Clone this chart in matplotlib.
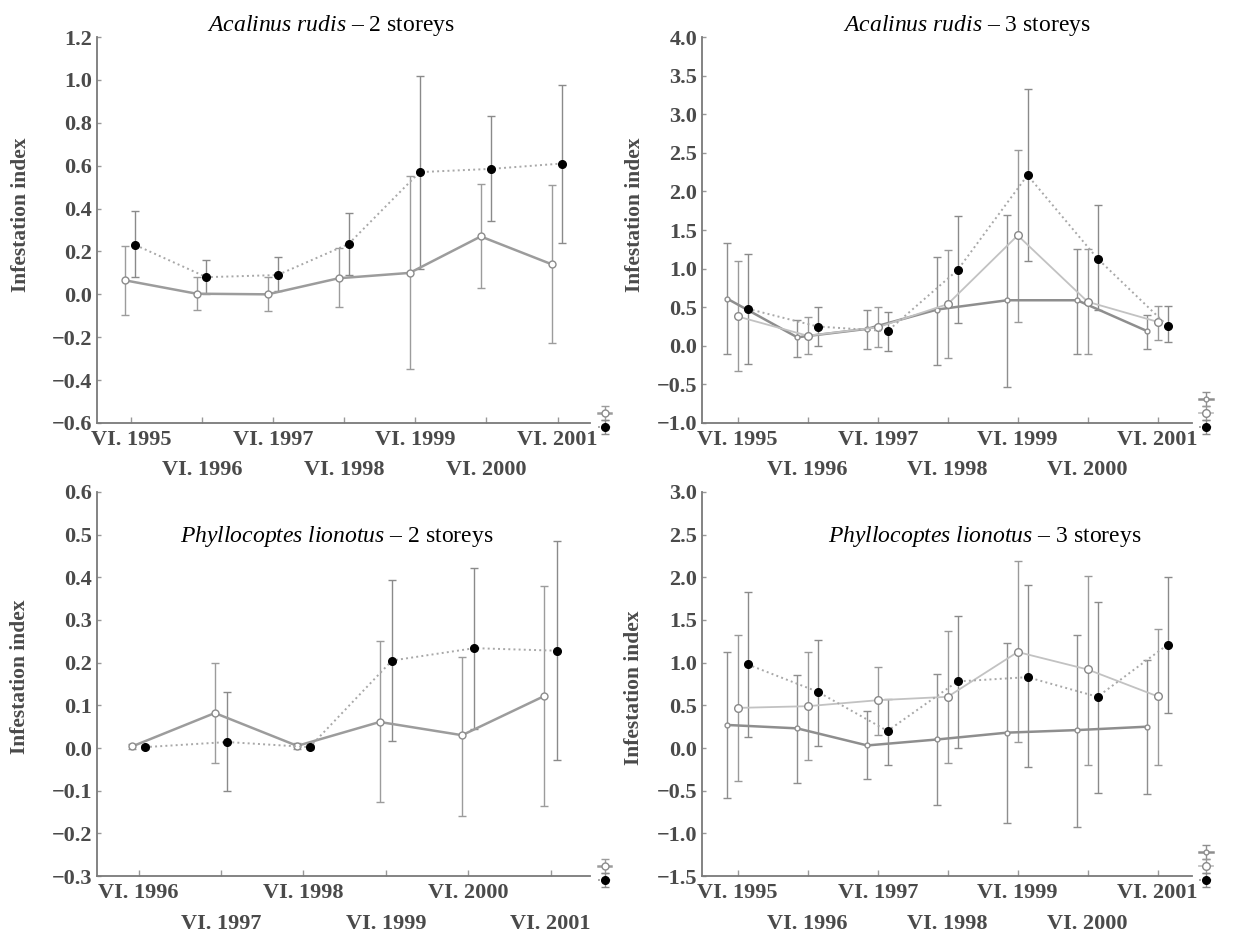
#!/usr/bin/env python3
"""Infestation index of two eriophyid mites on 2- and 3-storey trees, 1995-2001."""
import matplotlib

matplotlib.use("Agg")
import matplotlib.pyplot as plt
import numpy as np
from matplotlib.ticker import FuncFormatter, MultipleLocator

plt.rcParams["font.family"] = ["Liberation Serif", "DejaVu Serif"]
plt.rcParams["mathtext.fontset"] = "custom"
plt.rcParams["mathtext.rm"] = "Liberation Serif"
plt.rcParams["mathtext.it"] = "Liberation Serif:italic"

YEARS_95 = [1995, 1996, 1997, 1998, 1999, 2000, 2001]
YEARS_96 = [1996, 1997, 1998, 1999, 2000, 2001]

# Acalinus rudis - 2 storeys (mean, upper and lower end of bar)
AR2_GREY_MEAN = [0.065, 0.003, 0.0, 0.075, 0.10, 0.27, 0.14]
AR2_GREY_HI = [0.225, 0.08, 0.08, 0.215, 0.55, 0.515, 0.51]
AR2_GREY_LO = [-0.095, -0.075, -0.08, -0.06, -0.35, 0.03, -0.225]
AR2_BLACK_MEAN = [0.23, 0.08, 0.09, 0.235, 0.57, 0.585, 0.61]
AR2_BLACK_HI = [0.39, 0.16, 0.175, 0.38, 1.02, 0.83, 0.975]
AR2_BLACK_LO = [0.08, 0.0, 0.015, 0.09, 0.12, 0.34, 0.24]

# Acalinus rudis - 3 storeys
AR3_A_MEAN = [0.61, 0.11, 0.22, 0.47, 0.59, 0.59, 0.19]
AR3_A_HI = [1.33, 0.33, 0.47, 1.15, 1.69, 1.26, 0.40]
AR3_A_LO = [-0.11, -0.15, -0.04, -0.25, -0.54, -0.11, -0.04]
AR3_B_MEAN = [0.38, 0.13, 0.24, 0.54, 1.43, 0.57, 0.31]
AR3_B_HI = [1.10, 0.37, 0.50, 1.24, 2.54, 1.26, 0.51]
AR3_B_LO = [-0.33, -0.10, -0.02, -0.16, 0.31, -0.11, 0.07]
AR3_C_MEAN = [0.48, 0.25, 0.19, 0.98, 2.21, 1.13, 0.26]
AR3_C_HI = [1.19, 0.50, 0.44, 1.68, 3.33, 1.82, 0.51]
AR3_C_LO = [-0.23, 0.0, -0.07, 0.29, 1.10, 0.46, 0.05]

# Phyllocoptes lionotus - 2 storeys
PL2_GREY_MEAN = [0.004, 0.082, 0.005, 0.061, 0.03, 0.122]
PL2_GREY_HI = [0.01, 0.199, 0.012, 0.25, 0.214, 0.38]
PL2_GREY_LO = [-0.002, -0.035, -0.002, -0.127, -0.16, -0.137]
PL2_BLACK_MEAN = [0.002, 0.014, 0.002, 0.205, 0.234, 0.228]
PL2_BLACK_HI = [0.006, 0.131, 0.006, 0.394, 0.421, 0.484]
PL2_BLACK_LO = [-0.002, -0.101, -0.002, 0.017, 0.045, -0.028]

# Phyllocoptes lionotus - 3 storeys
PL3_A_MEAN = [0.27, 0.23, 0.03, 0.10, 0.18, 0.21, 0.25]
PL3_A_HI = [1.125, 0.86, 0.43, 0.87, 1.23, 1.33, 1.03]
PL3_A_LO = [-0.59, -0.41, -0.36, -0.67, -0.88, -0.92, -0.54]
PL3_B_MEAN = [0.47, 0.49, 0.56, 0.60, 1.125, 0.92, 0.605]
PL3_B_HI = [1.33, 1.12, 0.95, 1.37, 2.19, 2.02, 1.39]
PL3_B_LO = [-0.39, -0.14, 0.15, -0.17, 0.07, -0.20, -0.20]
PL3_C_MEAN = [0.98, 0.66, 0.20, 0.78, 0.83, 0.60, 1.21]
PL3_C_HI = [1.83, 1.27, 0.58, 1.55, 1.91, 1.71, 2.00]
PL3_C_LO = [0.13, 0.02, -0.20, 0.0, -0.22, -0.53, 0.41]

TITLES = [
    r"$\mathit{Acalinus\ rudis}$ – 2 storeys",
    r"$\mathit{Acalinus\ rudis}$ – 3 storeys",
    r"$\mathit{Phyllocoptes\ lionotus}$ – 2 storeys",
    r"$\mathit{Phyllocoptes\ lionotus}$ – 3 storeys",
]

GREY_SOLID = dict(ls="-", color="#9c9c9c", lw=1.8, marker="o", ms=5, mfc="white",
                  mec="#8c8c8c", ecolor="#9c9c9c")
DARK_SOLID = dict(ls="-", color="#8e8e8e", lw=1.8, marker="o", ms=3.5, mfc="white",
                  mec="#8e8e8e", ecolor="#8e8e8e")
LIGHT_SOLID = dict(ls="-", color="#c2c2c2", lw=1.3, marker="o", ms=5.5, mfc="white",
                   mec="#888888", ecolor="#9a9a9a")
BLACK_DOTTED = dict(ls=":", color="#a8a8a8", lw=1.4, marker="o", ms=5.5, mfc="black",
                    mec="black", ecolor="#8a8a8a")

TEXT_GREY = "#4a4a4a"


def minus_fmt(v, _pos):
    return f"{v:.1f}".replace("-", "−")


def draw_series(ax, years, mean, hi, lo, shift, style):
    x = np.asarray(years, dtype=float) + shift
    mean = np.asarray(mean)
    yerr = [mean - np.asarray(lo), np.asarray(hi) - mean]
    return ax.errorbar(x, mean, yerr=yerr, capsize=3, elinewidth=1.0, capthick=1.0, **style)


def style_axes(ax, years, xlim, ylim, step, title, title_xy, ylabel_xy):
    ax.set_xlim(*xlim)
    ax.set_ylim(*ylim)
    ax.yaxis.set_major_locator(MultipleLocator(step))
    ax.yaxis.set_major_formatter(FuncFormatter(minus_fmt))
    # labels alternate between two rows: upper row as major ticks, lower row as minor
    upper, lower = years[0::2], years[1::2]
    ax.set_xticks(upper)
    ax.set_xticklabels([f"VI. {y}" for y in upper])
    ax.set_xticks(lower, minor=True)
    ax.set_xticklabels([f"VI. {y}" for y in lower], minor=True)
    for side in ("top", "right"):
        ax.spines[side].set_visible(False)
    for side in ("left", "bottom"):
        ax.spines[side].set_color("#7a7a7a")
        ax.spines[side].set_linewidth(1.3)
    ax.tick_params(axis="x", which="both", direction="in", length=4, width=1, color="#999999",
                   labelsize=16, labelcolor=TEXT_GREY)
    ax.tick_params(axis="x", which="major", pad=5)
    ax.tick_params(axis="x", which="minor", pad=27)
    ax.tick_params(axis="y", direction="in", length=3, width=1, color="#999999", pad=3.5,
                   labelsize=16, labelcolor=TEXT_GREY)
    for lbl in ax.get_xticklabels(which="both") + ax.get_yticklabels():
        lbl.set_fontweight("bold")
    ax.set_ylabel("Infestation index", fontsize=15.5, color=TEXT_GREY, fontweight="bold")
    ax.yaxis.set_label_coords(*ylabel_xy)
    ax.text(*title_xy, title, transform=ax.transAxes, ha="center", va="center", fontsize=17,
            color="black")


def add_legend(ax, handles):
    ax.legend(handles, [""] * len(handles), loc="lower left", bbox_to_anchor=(1.015, -0.03),
              frameon=False, handlelength=1.0, handletextpad=0.2, labelspacing=0.05,
              borderpad=0, borderaxespad=0)


def main() -> None:
    fig = plt.figure(figsize=(12.36, 9.35), dpi=100)
    ax1 = fig.add_axes([0.0785, 0.5476, 0.399, 0.4128])
    ax2 = fig.add_axes([0.568, 0.5476, 0.3964, 0.4128])
    ax3 = fig.add_axes([0.0785, 0.0631, 0.399, 0.4107])
    ax4 = fig.add_axes([0.568, 0.0631, 0.3964, 0.4107])

    # top left
    h1 = draw_series(ax1, YEARS_95, AR2_GREY_MEAN, AR2_GREY_HI, AR2_GREY_LO, -0.08, GREY_SOLID)
    h2 = draw_series(ax1, YEARS_95, AR2_BLACK_MEAN, AR2_BLACK_HI, AR2_BLACK_LO, 0.06, BLACK_DOTTED)
    style_axes(ax1, YEARS_95, (1994.52, 2001.46), (-0.6, 1.2), 0.2, TITLES[0], (0.475, 1.03),
               (-0.134, 0.54))
    add_legend(ax1, [h1, h2])

    # top right
    h1 = draw_series(ax2, YEARS_95, AR3_A_MEAN, AR3_A_HI, AR3_A_LO, -0.15, DARK_SOLID)
    h2 = draw_series(ax2, YEARS_95, AR3_B_MEAN, AR3_B_HI, AR3_B_LO, 0.0, LIGHT_SOLID)
    h3 = draw_series(ax2, YEARS_95, AR3_C_MEAN, AR3_C_HI, AR3_C_LO, 0.14, BLACK_DOTTED)
    style_axes(ax2, YEARS_95, (1994.49, 2001.49), (-1.0, 4.0), 0.5, TITLES[1], (0.54, 1.03),
               (-0.116, 0.54))
    add_legend(ax2, [h1, h2, h3])

    # bottom left
    h1 = draw_series(ax3, YEARS_96, PL2_GREY_MEAN, PL2_GREY_HI, PL2_GREY_LO, -0.075, GREY_SOLID)
    h2 = draw_series(ax3, YEARS_96, PL2_BLACK_MEAN, PL2_BLACK_HI, PL2_BLACK_LO, 0.075, BLACK_DOTTED)
    style_axes(ax3, YEARS_96, (1995.495, 2001.48), (-0.3, 0.6), 0.1, TITLES[2], (0.487, 0.883),
               (-0.136, 0.52))
    add_legend(ax3, [h1, h2])

    # bottom right
    h1 = draw_series(ax4, YEARS_95, PL3_A_MEAN, PL3_A_HI, PL3_A_LO, -0.15, DARK_SOLID)
    h2 = draw_series(ax4, YEARS_95, PL3_B_MEAN, PL3_B_HI, PL3_B_LO, 0.0, LIGHT_SOLID)
    h3 = draw_series(ax4, YEARS_95, PL3_C_MEAN, PL3_C_HI, PL3_C_LO, 0.14, BLACK_DOTTED)
    style_axes(ax4, YEARS_95, (1994.49, 2001.49), (-1.5, 3.0), 0.5, TITLES[3], (0.576, 0.883),
               (-0.119, 0.49))
    add_legend(ax4, [h1, h2, h3])

    fig.savefig("out.png", dpi=100)


if __name__ == "__main__":
    main()
